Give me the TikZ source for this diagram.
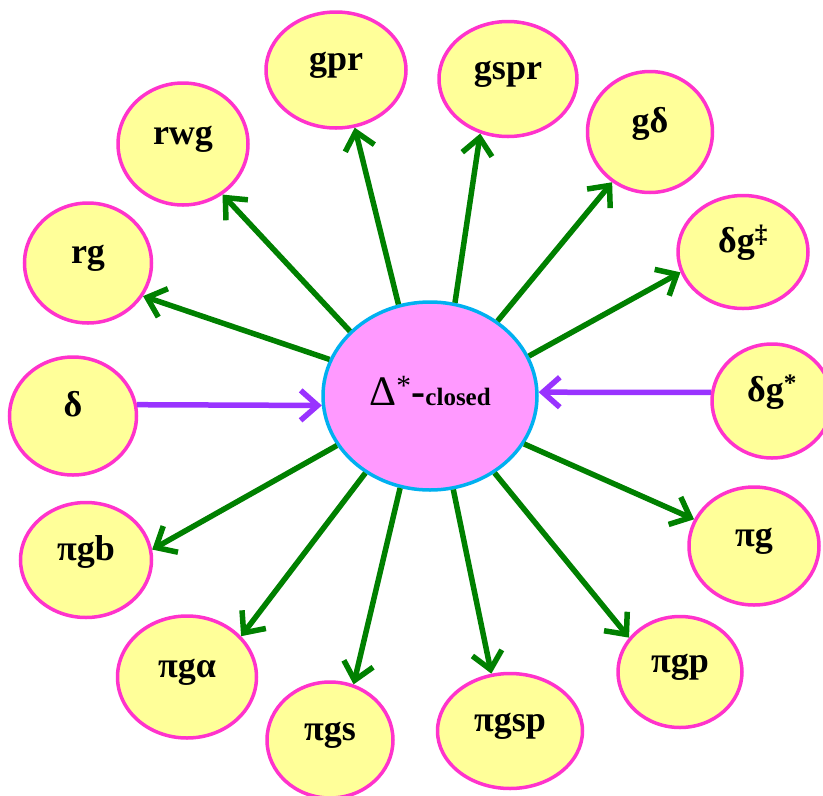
\documentclass[tikz,border=0pt]{standalone}
\usepackage{fontspec}
\setmainfont{Liberation Serif}
\usetikzlibrary{shapes.geometric, arrows.meta}
\definecolor{amarelo}{HTML}{FFFF99}
\definecolor{rosa}{HTML}{FF33CC}
\definecolor{lilas}{HTML}{FF99FF}
\definecolor{ciano}{HTML}{00B0F0}
\definecolor{verde}{HTML}{008000}
\definecolor{roxo}{HTML}{9933FF}
\tikzset{
  bolha/.style = {ellipse, draw=rosa, fill=amarelo, line width=3.5pt, inner sep=0pt,
    text height=0.7em, text depth=0.7em, font=\fontsize{36}{40}\selectfont\bfseries},
  tam/.style 2 args = {minimum width=#1pt, minimum height=#2pt},
  centro/.style = {ellipse, draw=ciano, fill=lilas, line width=3.5pt, inner sep=0pt,
    minimum width=214pt, minimum height=188pt, text height=30pt, text depth=12pt},
  seta/.style = {-{Straight Barb[length=17pt,width=30pt]}, line width=5.5pt, draw=verde},
  setaroxa/.style = {-{Straight Barb[length=17pt,width=30pt]}, line width=5.5pt, draw=roxo}
}

\begin{document}
\begin{tikzpicture}[x=1pt, y=-1pt]
  \useasboundingbox (0,0) rectangle (823,796);
  \node [centro] (fech) at (430,396)
    {{\fontsize{42}{46}\selectfont Δ\textsuperscript{*}\textbf{-}}{\fontsize{25}{28}\selectfont\textbf{closed}}};
  % ao redor
  \node [bolha, tam={140}{116}] (gpr) at (336,70) {gpr};
  \node [bolha, tam={138}{115}] (gspr) at (508,79) {gspr};
  \node [bolha, tam={130}{122}] (rwg) at (183,144) {rwg};
  \node [bolha, tam={125}{121}] (gd) at (650,132) {gδ};
  \node [bolha, tam={127}{120}] (rg) at (88,263) {rg};
  \node [bolha, tam={130}{113}] (dgd) at (743,252) {δg\textsuperscript{‡}};
  \node [bolha, tam={127}{118}] (d) at (73,416) {δ};
  \node [bolha, tam={120}{114}] (dgs) at (772,401) {δg\textsuperscript{*}};
  \node [bolha, tam={131}{115}] (pgb) at (86,560) {πgb};
  \node [bolha, tam={130}{118}] (pg) at (754,546) {πg};
  \node [bolha, tam={139}{122}] (pga) at (187,677) {πgα};
  \node [bolha, tam={124}{111}] (pgp) at (680,672) {πgp};
  \node [bolha, tam={126}{116}] (pgs) at (330,740) {πgs};
  \node [bolha, tam={145}{115}] (pgsp) at (510,731) {πgsp};
  % setas
  \draw [seta] (fech.109) -- (gpr.-72);
  \draw [seta] (fech.75) -- (gspr.243);
  \draw [seta] (fech.141) -- (rwg.-52);
  \draw [seta] (fech.48) -- (gd.233);
  \draw [seta] (fech.160) -- (rg.-31);
  \draw [seta] (fech.22) -- (dgd.198);
  \draw [seta] (fech.208) -- (pgb.9);
  \draw [seta] (fech.-27) -- (pg.156);
  \draw [seta] (fech.230) -- (pga.37);
  \draw [seta] (fech.-50) -- (pgp.146);
  \draw [seta] (fech.252) -- (pgs.67);
  \draw [seta] (fech.-76) -- (pgsp.108);
  \draw [setaroxa] (d.10) -- (fech.185);
  \draw [setaroxa] (dgs.172) -- (fech.2);
\end{tikzpicture}
\end{document}
